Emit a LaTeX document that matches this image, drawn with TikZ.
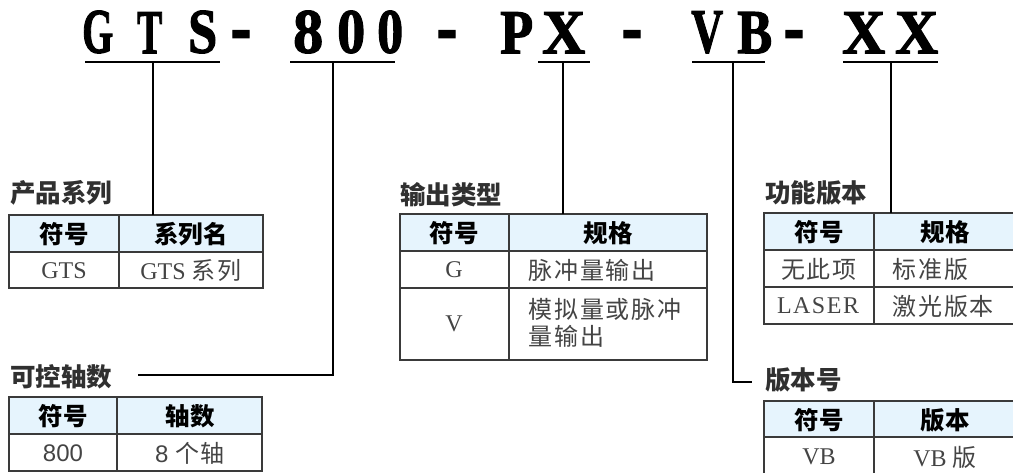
\documentclass[tikz,border=0pt]{standalone}
\usepackage{fontspec}
\setmainfont{Liberation Serif}
\setsansfont{Liberation Sans}
\newfontfamily\cjk{Noto Sans CJK SC}
\newfontfamily\cjkd{Noto Sans CJK SC}[LetterSpace=8]
\newfontfamily\ttlfont{Liberation Serif Bold}[FakeBold=2]
\definecolor{hdrbg}{HTML}{E6F4FD}
\definecolor{bordc}{HTML}{3A3A3A}
\definecolor{ttlc}{HTML}{303030}
\definecolor{datc}{HTML}{444444}
\tikzset{
  tc/.style={anchor=south west, inner sep=0pt, font=\ttlfont\fontsize{62}{62}\selectfont},
  hy/.style={anchor=base, inner sep=0pt, font=\ttlfont\fontsize{62}{62}\selectfont},
  uline/.style={line width=2pt},
  conn/.style={line width=1.3pt},
  tbl/.style={draw=bordc, line width=1.2pt},
  ttl/.style={anchor=west, inner sep=0pt, text=ttlc, font=\cjk\bfseries\fontsize{25.5}{25.5}\selectfont},
  th/.style={inner sep=0pt, text=black, font=\cjk\bfseries\fontsize{24.5}{24.5}\selectfont},
  td/.style={inner sep=0pt, text=datc, font=\fontsize{24}{24}\selectfont},
  tdl/.style={td, anchor=west}
}
\begin{document}
\begin{tikzpicture}[x=1pt,y=-1pt]
\useasboundingbox (0,0) rectangle (1013,473);
% ---- title characters ----
\node[tc] (cG) at (82,53.5) {\resizebox{31pt}{42pt}{G}};
\node[tc] (cT) at (137,53.5) {\resizebox{25pt}{41pt}{T}};
\node[tc] (cS) at (188,53.5) {\resizebox{29pt}{42pt}{S}};
\node[hy] (h1) at (241,53) {\scalebox{1}[1.3]{-}};
\node[tc] (c8) at (293,53.5) {\resizebox{30pt}{42pt}{8}};
\node[tc] (c0a) at (337,53.5) {\resizebox{28pt}{42pt}{0}};
\node[tc] (c0b) at (377,53.5) {\resizebox{26pt}{42pt}{0}};
\node[hy] (h2) at (447,53) {\scalebox{1}[1.3]{-}};
\node[tc] (cP) at (500,53.5) {\resizebox{33pt}{41pt}{P}};
\node[tc] (cX1) at (542,53.5) {\resizebox{43pt}{41pt}{X}};
\node[hy] (h3) at (632,53) {\scalebox{1}[1.3]{-}};
\node[tc] (cV) at (691,53.5) {\resizebox{32pt}{41pt}{V}};
\node[tc] (cB) at (737,53.5) {\resizebox{35pt}{41pt}{B}};
\node[hy] (h4) at (794,53) {\scalebox{1}[1.3]{-}};
\node[tc] (cX2) at (842,53.5) {\resizebox{43pt}{41pt}{X}};
\node[tc] (cX3) at (895,53.5) {\resizebox{43pt}{41pt}{X}};
% ---- underline coordinates ----
\coordinate (u1l) at (85,62); \coordinate (u1r) at (220,62); \coordinate (u1m) at (153,62);
\coordinate (u2l) at (290,62); \coordinate (u2r) at (395,62); \coordinate (u2m) at (333,62);
\coordinate (u3l) at (538,62); \coordinate (u3r) at (590,62); \coordinate (u3m) at (563,62);
\coordinate (u4l) at (692,62); \coordinate (u4r) at (765,62); \coordinate (u4m) at (733,62);
\coordinate (u5l) at (843,62); \coordinate (u5r) at (938,62); \coordinate (u5m) at (891,62);
\draw[uline] (u1l) -- (u1r);
\draw[uline] (u2l) -- (u2r);
\draw[uline] (u3l) -- (u3r);
\draw[uline] (u4l) -- (u4r);
\draw[uline] (u5l) -- (u5r);
% ---- table 1 ----
\fill[hdrbg] (9,215) rectangle (263,252);
\draw[tbl] (9,215) rectangle (263,288) (9,252) -- (263,252) (119,215) -- (119,288);
\coordinate (tb1) at (153,215);
\node[ttl] (ti1) at (10,193) {产品系列};
\node[th] (h1a) at (64,234) {符号};
\node[th] (h1b) at (191,234) {系列名};
\node[td] (d1a) at (64,271) {GTS};
\node[td] (d1b) at (191,271) {GTS {\cjkd 系列}};
% ---- table 2 ----
\fill[hdrbg] (9,397) rectangle (262,434);
\draw[tbl] (9,397) rectangle (262,471) (9,434) -- (262,434) (117,397) -- (117,471);
\node[ttl] (ti2) at (10,377) {可控轴数};
\coordinate (t2e) at (138,375);
\node[th] (h2a) at (63,416) {符号};
\node[th] (h2b) at (190,416) {轴数};
\node[td] (d2a) at (63,453) {\sffamily 800};
\node[td] (d2b) at (190,453) {\sffamily 8 {\cjkd 个轴}};
% ---- table 3 ----
\fill[hdrbg] (400,214) rectangle (707,251);
\draw[tbl] (400,214) rectangle (707,360) (400,251) -- (707,251) (400,288) -- (707,288) (509,214) -- (509,360);
\coordinate (tb3) at (563,214);
\node[ttl] (ti3) at (400,195) {输出类型};
\node[th] (h3a) at (454,233) {符号};
\node[th] (h3b) at (608,233) {规格};
\node[td] (d3a) at (454,270) {G};
\node[tdl] (d3b) at (528,270) {\cjkd 脉冲量输出};
\node[td] (d3c) at (454,324) {V};
\node[tdl] (d3d) at (528,309) {\cjkd 模拟量或脉冲};
\node[tdl] (d3e) at (528,336) {\cjkd 量输出};
% ---- table 4 ----
\fill[hdrbg] (764,213) rectangle (1020,250);
\draw[tbl] (764,213) rectangle (1020,324) (764,250) -- (1020,250) (764,287) -- (1020,287) (874,213) -- (874,324);
\coordinate (tb4) at (891,213);
\node[ttl] (ti4) at (765,193) {功能版本};
\node[th] (h4a) at (819,232) {符号};
\node[th] (h4b) at (945,232) {规格};
\node[td] (d4a) at (819,269) {\cjkd 无此项};
\node[tdl] (d4b) at (892,269) {\cjkd 标准版};
\node[td] (d4c) at (818,306) {L\kern1.5pt A\kern1.5pt S\kern1.5pt E\kern1.5pt R};
\node[tdl] (d4d) at (892,306) {\cjkd 激光版本};
% ---- table 5 ----
\fill[hdrbg] (764,401) rectangle (1020,437);
\draw[tbl] (764,401) rectangle (1020,480) (764,437) -- (1020,437) (874,401) -- (874,480);
\node[ttl] (ti5) at (765,380) {版本号};
\coordinate (t5e) at (752,382);
\node[th] (h5a) at (819,420) {符号};
\node[th] (h5b) at (945,420) {版本};
\node[td] (d5a) at (819,457) {VB};
\node[td] (d5b) at (945,457) {VB {\cjkd 版}};
% ---- connectors ----
\draw[conn] (u1m) -- (tb1);
\draw[conn] (u2m) |- (t2e);
\draw[conn] (u3m) -- (tb3);
\draw[conn] (u4m) |- (t5e);
\draw[conn] (u5m) -- (tb4);
\end{tikzpicture}
\end{document}
